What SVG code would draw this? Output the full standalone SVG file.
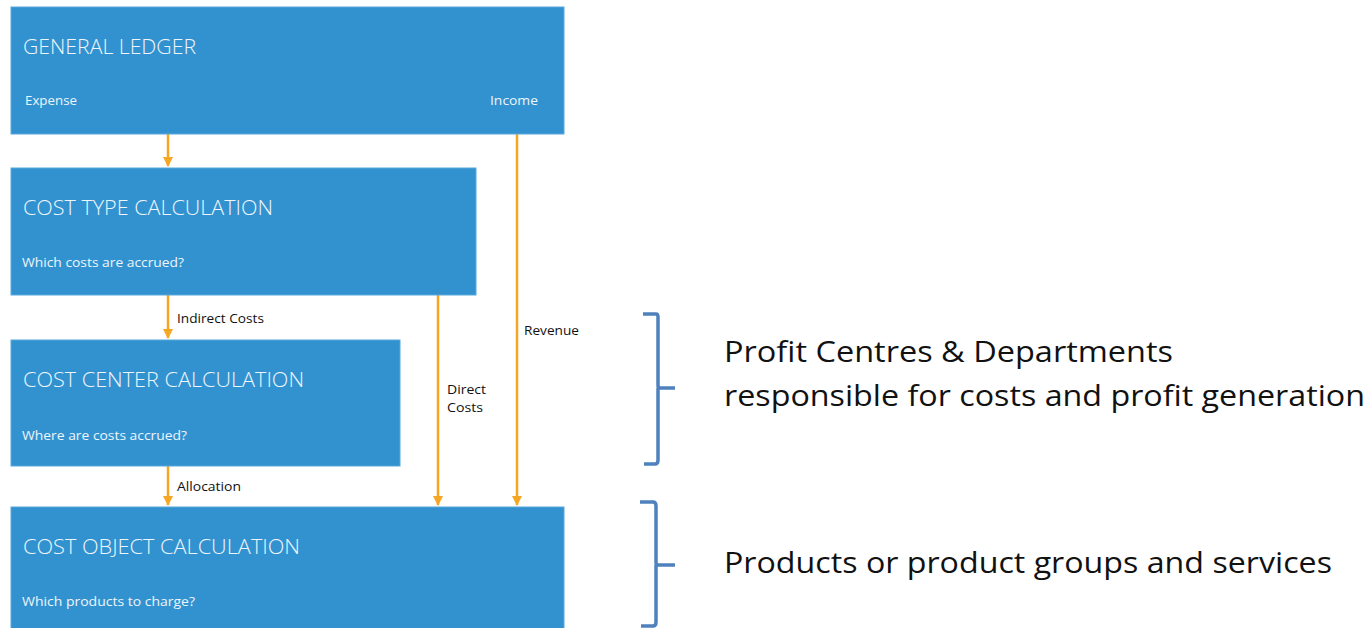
<svg xmlns="http://www.w3.org/2000/svg" width="1371" height="628" viewBox="0 0 1371 628">
<style>
.box{fill:#3292d0;stroke:#5aa8dc;stroke-width:1}
.title{font-family:"Open Sans","Liberation Sans",sans-serif;font-size:20px;fill:#eef5fb;font-weight:300}
.sub{font-family:"Open Sans","Liberation Sans",sans-serif;font-size:12.5px;fill:#eef5fb}
.lbl{font-family:"Open Sans","Liberation Sans",sans-serif;font-size:13px;fill:#111}
.conn{stroke:#f5a623;stroke-width:2.5;fill:none;marker-end:url(#ah)}
.brace{stroke:#4f81bd;stroke-width:3.5;fill:none;stroke-linejoin:round}
.note{font-family:"Open Sans","Liberation Sans",sans-serif;font-size:29px;fill:#111}
</style>
<defs>
<marker id="ah" markerWidth="10" markerHeight="10" refX="9" refY="5" orient="auto" markerUnits="userSpaceOnUse">
<path d="M0,0 L10,5 L0,10 Z" fill="#f5a623"/>
</marker>
</defs>
<g id="connectors">
<line class="conn" x1="168" y1="134" x2="168" y2="166"/>
<line class="conn" x1="168" y1="295" x2="168" y2="338"/>
<line class="conn" x1="168" y1="466" x2="168" y2="505"/>
<line class="conn" x1="438" y1="295" x2="438" y2="505"/>
<line class="conn" x1="517" y1="134" x2="517" y2="505"/>
<text class="lbl" x="177" y="323" textLength="87" lengthAdjust="spacingAndGlyphs">Indirect Costs</text>
<text class="lbl" x="177" y="491" textLength="64" lengthAdjust="spacingAndGlyphs">Allocation</text>
<text class="lbl" x="447" y="394" textLength="39" lengthAdjust="spacingAndGlyphs">Direct</text>
<text class="lbl" x="447" y="412" textLength="36" lengthAdjust="spacingAndGlyphs">Costs</text>
<text class="lbl" x="524" y="335" textLength="55" lengthAdjust="spacingAndGlyphs">Revenue</text>
</g>
<g id="general-ledger">
<rect class="box" x="11" y="7" width="553" height="127"/>
<text class="title" x="23" y="54" textLength="173" lengthAdjust="spacingAndGlyphs">GENERAL LEDGER</text>
<text class="sub" x="25" y="105" textLength="52" lengthAdjust="spacingAndGlyphs">Expense</text>
<text class="sub" x="490" y="105" textLength="48" lengthAdjust="spacingAndGlyphs">Income</text>
</g>
<g id="cost-type">
<rect class="box" x="11" y="168" width="465" height="127"/>
<text class="title" x="23" y="215" textLength="250" lengthAdjust="spacingAndGlyphs">COST TYPE CALCULATION</text>
<text class="sub" x="22" y="267" textLength="162" lengthAdjust="spacingAndGlyphs">Which costs are accrued?</text>
</g>
<g id="cost-center">
<rect class="box" x="11" y="340" width="389" height="126"/>
<text class="title" x="23" y="387" textLength="281" lengthAdjust="spacingAndGlyphs">COST CENTER CALCULATION</text>
<text class="sub" x="22" y="440" textLength="165" lengthAdjust="spacingAndGlyphs">Where are costs accrued?</text>
</g>
<g id="cost-object">
<rect class="box" x="11" y="507" width="553" height="125"/>
<text class="title" x="23" y="554" textLength="277" lengthAdjust="spacingAndGlyphs">COST OBJECT CALCULATION</text>
<text class="sub" x="22" y="606" textLength="173" lengthAdjust="spacingAndGlyphs">Which products to charge?</text>
</g>
<g id="brace-profit">
<path class="brace" d="M643,314 L656,314 Q658,314 658,317 L658,386 Q658,388 661,388 L675,388 M658,388 L658,460 Q658,464 655,464 L644,464"/>
<text class="note" x="724" y="362" textLength="449" lengthAdjust="spacingAndGlyphs">Profit Centres &amp; Departments</text>
<text class="note" x="724" y="406" textLength="641" lengthAdjust="spacingAndGlyphs">responsible for costs and profit generation</text>
</g>
<g id="brace-products">
<path class="brace" d="M640,502 L653,502 Q656,502 656,506 L656,563 Q656,565 659,565 L675,565 M656,565 L656,622 Q656,626 653,626 L641,626"/>
<text class="note" x="724" y="573" textLength="608" lengthAdjust="spacingAndGlyphs">Products or product groups and services</text>
</g>
</svg>
